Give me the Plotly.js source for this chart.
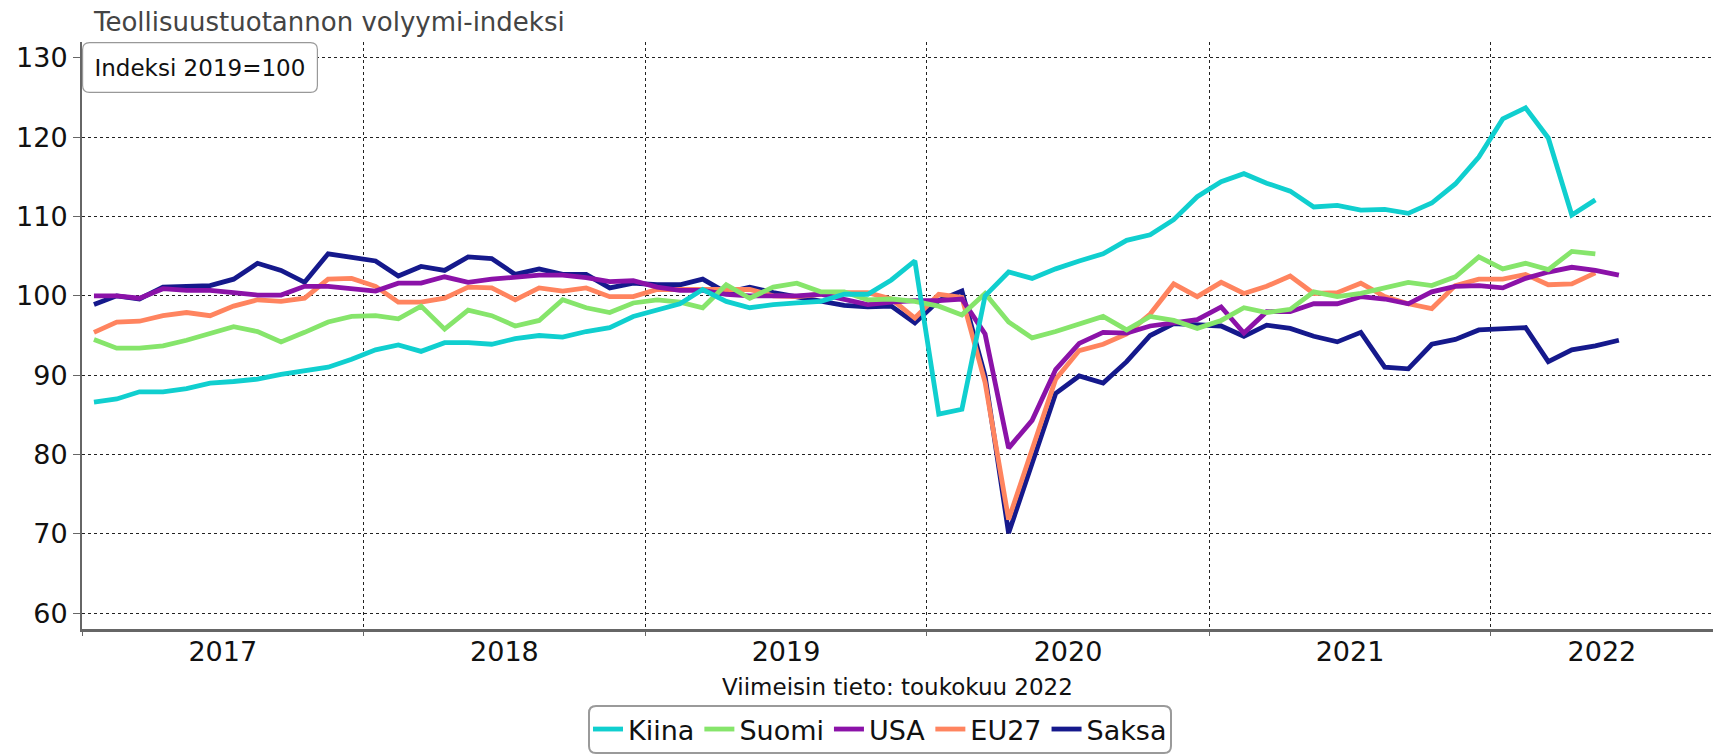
<!DOCTYPE html>
<html>
<head>
<meta charset="utf-8">
<script src="https://cdn.plot.ly/plotly-3.0.1.min.js"></script>
<style>
  html, body { margin: 0; padding: 0; background: #fff; }
  #chart { width: 1713px; height: 754px; }
</style>
</head>
<body>
<div id="chart"></div>
<script>
// Monthly observations, first month January 2017
const startYear = 2017;
const nMonths = 66; // Jan 2017 .. Jun 2022
const months = [];
for (let i = 0; i < nMonths; i++) {
  const y = startYear + Math.floor(i / 12);
  const m = (i % 12) + 1;
  months.push(y + '-' + (m < 10 ? '0' + m : m));
}

const yearLabels = ['2017', '2018', '2019', '2020', '2021', '2022'];
const seriesNames = ['Kiina', 'Suomi', 'USA', 'EU27', 'Saksa'];

const kiina = [86.6, 87.0, 87.9, 87.9, 88.3, 89.0, 89.2, 89.5, 90.1, 90.5, 91.0, 92.0,
  93.2, 93.8, 93.0, 94.1, 94.1, 93.9, 94.6, 95.0, 94.8, 95.5, 96.0, 97.4,
  98.3, 99.0, 100.8, 99.3, 98.5, 98.9, 99.1, 99.3, 100.2, 100.2, 102.0, 104.4,
  85.1, 85.7, 100.0, 103.0, 102.2, 103.4, 104.4, 105.3, 107.0, 107.7, 109.6, 112.5,
  114.4, 115.4, 114.2, 113.2, 111.2, 111.4, 110.8, 110.9, 110.4, 111.7, 114.1, 117.5,
  122.3, 123.7, 119.9, 110.2, 112.1];

const suomi = [94.5, 93.4, 93.4, 93.7, 94.4, 95.3, 96.1, 95.5, 94.2, 95.4, 96.7, 97.4,
  97.5, 97.1, 98.7, 95.8, 98.2, 97.5, 96.2, 96.9, 99.5, 98.5, 97.9, 99.1,
  99.5, 99.2, 98.5, 101.4, 99.7, 101.1, 101.6, 100.5, 100.5, 99.5, 99.6, 99.3,
  98.7, 97.6, 100.3, 96.7, 94.7, 95.5, 96.4, 97.4, 95.7, 97.4, 96.9, 95.9,
  96.9, 98.5, 97.9, 98.3, 100.5, 99.9, 100.3, 101.0, 101.7, 101.3, 102.4, 104.9,
  103.4, 104.1, 103.3, 105.6, 105.3];

const usa = [100.0, 100.0, 99.7, 100.9, 100.7, 100.7, 100.4, 100.1, 100.1, 101.2, 101.2, 100.9,
  100.6, 101.6, 101.6, 102.4, 101.7, 102.1, 102.3, 102.6, 102.6, 102.3, 101.8, 101.9,
  101.1, 100.7, 100.7, 100.2, 100.0, 100.0, 100.0, 100.2, 99.6, 98.9, 99.2, 99.4,
  99.4, 99.6, 95.2, 80.8, 84.3, 90.7, 94.0, 95.4, 95.3, 96.2, 96.6, 97.0,
  98.6, 95.3, 98.0, 98.0, 99.0, 99.0, 99.9, 99.6, 99.0, 100.5, 101.2, 101.3,
  101.0, 102.2, 103.0, 103.6, 103.2, 102.6];

const eu27 = [95.4, 96.7, 96.8, 97.5, 97.9, 97.5, 98.7, 99.5, 99.3, 99.7, 102.1, 102.2,
  101.2, 99.2, 99.2, 99.7, 101.1, 101.0, 99.5, 101.0, 100.6, 101.0, 99.9, 99.9,
  100.8, 100.8, 100.8, 100.8, 100.8, 100.0, 99.9, 100.2, 100.4, 100.4, 99.6, 97.2,
  100.2, 99.8, 89.1, 71.8, 80.6, 89.5, 93.1, 93.9, 95.2, 97.7, 101.5, 99.9,
  101.7, 100.3, 101.2, 102.5, 100.3, 100.4, 101.6, 99.9, 99.0, 98.4, 101.3, 102.1,
  102.1, 102.7, 101.4, 101.5, 102.9];

const saksa = [98.9, 100.0, 99.6, 101.1, 101.2, 101.3, 102.1, 104.1, 103.2, 101.7, 105.3, 104.9,
  104.4, 102.5, 103.7, 103.2, 104.9, 104.7, 102.7, 103.4, 102.7, 102.7, 101.0, 101.6,
  101.4, 101.4, 102.1, 100.4, 101.1, 100.4, 99.9, 99.3, 98.8, 98.6, 98.7, 96.6,
  99.4, 100.6, 89.9, 70.1, 78.9, 87.7, 89.9, 89.0, 91.7, 95.0, 96.5, 96.3,
  96.2, 94.9, 96.3, 95.9, 94.9, 94.2, 95.4, 91.0, 90.8, 93.9, 94.5, 95.7,
  95.9, 96.0, 91.7, 93.2, 93.7, 94.4];

const seriesValues = [kiina, suomi, usa, eu27, saksa];
const seriesColors = ['#10cfcf', '#86e56b', '#8b12a8', '#ff845f', '#15198c'];

const chartTitle = 'Teollisuustuotannon volyymi-indeksi';
const xTitle = 'Viimeisin tieto: toukokuu 2022';
const noteText = 'Indeksi 2019=100';

const FONT = '"DejaVu Sans", Verdana, sans-serif';
const xRange = ['2017-01-01', '2022-10-16'];

// year labels centred on the visible part of each year
const rStart = new Date(xRange[0] + 'T00:00:00Z').getTime();
const rEnd = new Date(xRange[1] + 'T00:00:00Z').getTime();
const labelVals = yearLabels.map(function (yl) {
  const a = Math.max(Date.UTC(+yl, 0, 1), rStart);
  const b = Math.min(Date.UTC(+yl + 1, 0, 1), rEnd);
  return new Date((a + b) / 2).toISOString().slice(0, 19).replace('T', ' ');
});

// draw order: Saksa at bottom, Kiina on top; legend shown reversed
const traces = [];
for (let k = seriesNames.length - 1; k >= 0; k--) {
  const vals = seriesValues[k];
  traces.push({
    type: 'scatter',
    mode: 'lines',
    name: seriesNames[k],
    x: months.slice(0, vals.length),
    y: vals,
    xperiod: 'M1',
    xperiodalignment: 'middle',
    line: { color: seriesColors[k], width: 4.8 }
  });
}

const layout = {
  width: 1713,
  height: 754,
  paper_bgcolor: '#ffffff',
  plot_bgcolor: '#ffffff',
  font: { family: FONT, color: '#111', size: 23 },
  margin: { l: 82, r: 0, t: 42, b: 125, pad: 0 },
  title: {
    text: chartTitle,
    font: { family: FONT, size: 26, color: '#444' },
    xref: 'container', x: 94 / 1713, xanchor: 'left',
    yref: 'container', y: 1 - 22 / 754, yanchor: 'middle'
  },
  showlegend: true,
  legend: {
    orientation: 'h',
    traceorder: 'reversed',
    xref: 'container', x: 880 / 1713, xanchor: 'center',
    yref: 'container', y: -14 / 754, yanchor: 'bottom',
    bordercolor: '#999', borderwidth: 0, bgcolor: 'rgba(255,255,255,0)',
    font: { family: FONT, size: 27, color: '#111' },
    itemwidth: 30
  },
  xaxis: {
    type: 'date',
    range: xRange,
    tickmode: 'array',
    tickvals: labelVals,
    ticktext: yearLabels,
    ticks: '',
    ticklabelstandoff: -3,
    showgrid: false,
    minor: {
      tick0: '2017-01-01', dtick: 'M12',
      showgrid: true, gridcolor: '#222', griddash: 'dot', gridwidth: 1,
      ticks: 'outside', ticklen: 4, tickcolor: '#666', tickwidth: 1
    },
    showline: true, linecolor: '#666', linewidth: 3,
    tickfont: { family: FONT, size: 27, color: '#111' },
    zeroline: false,
    title: { text: xTitle, font: { family: FONT, size: 23, color: '#111' }, standoff: 13 }
  },
  yaxis: {
    range: [58, 132],
    tick0: 0, dtick: 10,
    showgrid: true, gridcolor: '#222', griddash: 'dot', gridwidth: 1,
    showline: true, linecolor: '#666', linewidth: 2,
    ticks: 'outside', ticklen: 7, tickcolor: '#666', tickwidth: 1,
    tickfont: { family: FONT, size: 27, color: '#111' },
    zeroline: false
  },
  annotations: [{
    text: noteText,
    xref: 'paper', yref: 'paper', x: 0, y: 1,
    xanchor: 'left', yanchor: 'top',
    showarrow: false,
    font: { family: FONT, size: 23, color: '#111' },
    bgcolor: 'rgba(255,255,255,0)', borderwidth: 0, borderpad: 12.5
  }]
};

// rounded frame around a rendered element, expressed in paper coordinates
function roundedFrame(gd, el, radius, color, width, fill) {
  const sz = gd._fullLayout._size;
  const host = gd.getBoundingClientRect();
  const r = el.getBoundingClientRect();
  const inset = width / 2;
  const x0 = r.left - host.left + inset, x1 = r.right - host.left - inset;
  const y0 = r.top - host.top + inset, y1 = Math.min(r.bottom - host.top, 754) - inset;
  const px = function (v) { return ((v - sz.l) / sz.w).toFixed(6); };
  const py = function (v) { return (1 - (v - sz.t) / sz.h).toFixed(6); };
  const p = function (x, y) { return px(x) + ',' + py(y); };
  const rr = radius;
  const path = 'M' + p(x0 + rr, y0) + ' L' + p(x1 - rr, y0) +
    ' Q' + p(x1, y0) + ' ' + p(x1, y0 + rr) + ' L' + p(x1, y1 - rr) +
    ' Q' + p(x1, y1) + ' ' + p(x1 - rr, y1) + ' L' + p(x0 + rr, y1) +
    ' Q' + p(x0, y1) + ' ' + p(x0, y1 - rr) + ' L' + p(x0, y0 + rr) +
    ' Q' + p(x0, y0) + ' ' + p(x0 + rr, y0) + ' Z';
  return {
    type: 'path', xref: 'paper', yref: 'paper', path: path,
    line: { color: color, width: width }, fillcolor: fill, layer: 'above'
  };
}

Plotly.newPlot('chart', traces, layout, { staticPlot: true, displayModeBar: false }).then(function (gd) {
  const shapes = [];
  const annBg = gd.querySelector('.annotation .bg');
  if (annBg) shapes.push(roundedFrame(gd, annBg, 7, '#999', 1.2, '#ffffff'));
  const legBg = gd.querySelector('.legend .bg');
  if (legBg) shapes.push(roundedFrame(gd, legBg, 7, '#9a9a9a', 2, 'rgba(0,0,0,0)'));
  return Plotly.relayout(gd, { shapes: shapes });
});
</script>
</body>
</html>
